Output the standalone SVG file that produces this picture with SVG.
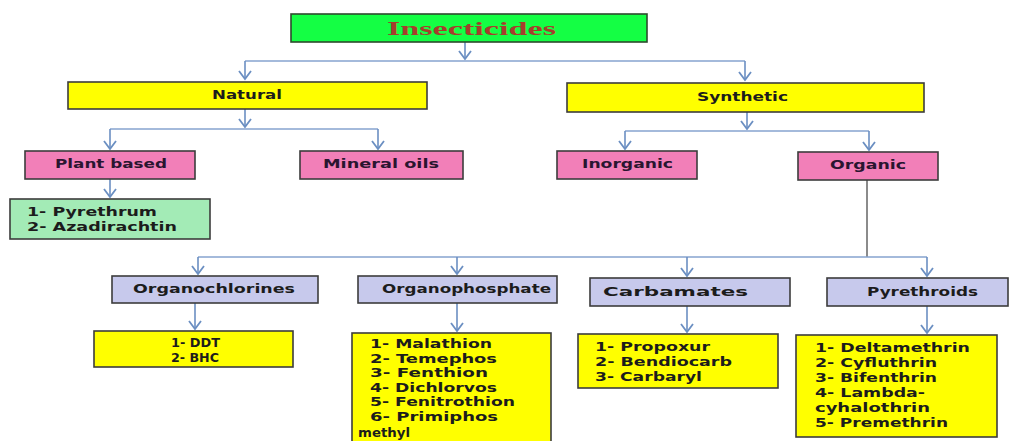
<svg xmlns="http://www.w3.org/2000/svg" width="1009" height="441" viewBox="0 0 1009 441">
<defs>
<marker id="chev" viewBox="-10 -7 12 14" refX="0" refY="0" markerWidth="12" markerHeight="14" markerUnits="userSpaceOnUse" orient="auto">
<path d="M-8,-6 L0,0 L-8,6" fill="none" stroke="#6b8fc2" stroke-width="1.8" stroke-linejoin="miter"/>
</marker>
</defs>
<style>
.b{stroke:#3c3c3c;stroke-width:1.6}
.y{fill:#ffff00}
.p{fill:#f27fb8}
.l{fill:#c7c9ec}
.g{fill:#a3ebb6}
.t{font-family:"DejaVu Sans",Verdana,sans-serif;font-weight:bold;font-size:13px;fill:#1c1c1c}
.s{font-size:12.5px}
.tp{fill:#2a1530}
.c{fill:none;stroke:#86a3cf;stroke-width:1.6}
.a{fill:none;stroke:#6b8fc2;stroke-width:1.6;marker-end:url(#chev)}
</style>
<rect width="1009" height="441" fill="#ffffff"/>
<g id="connectors">
<line class="a" x1="465" y1="42" x2="465" y2="59"/>
<polyline class="c" points="245,61 745,61"/>
<line class="a" x1="245" y1="61" x2="245" y2="79"/>
<line class="a" x1="745" y1="61" x2="745" y2="80"/>
<line class="a" x1="245" y1="109" x2="245" y2="127"/>
<polyline class="c" points="110,129 378,129"/>
<line class="a" x1="110" y1="129" x2="110" y2="149"/>
<line class="a" x1="378" y1="129" x2="378" y2="149"/>
<line class="a" x1="747" y1="112" x2="747" y2="129"/>
<polyline class="c" points="625,131 869,131"/>
<line class="a" x1="625" y1="131" x2="625" y2="149"/>
<line class="a" x1="869" y1="131" x2="869" y2="150"/>
<line class="a" x1="110" y1="179" x2="110" y2="197"/>
<line x1="867" y1="180" x2="867" y2="257" stroke="#6e6e6e" stroke-width="1.6"/>
<polyline class="c" points="198,257 927,257"/>
<line class="a" x1="198" y1="257" x2="198" y2="274"/>
<line class="a" x1="457" y1="257" x2="457" y2="274"/>
<line class="a" x1="687" y1="257" x2="687" y2="276"/>
<line class="a" x1="927" y1="257" x2="927" y2="276"/>
<line class="a" x1="195" y1="303" x2="195" y2="329"/>
<line class="a" x1="457" y1="303" x2="457" y2="331"/>
<line class="a" x1="687" y1="306" x2="687" y2="332"/>
<line class="a" x1="927" y1="306" x2="927" y2="333"/>
</g>
<g id="insecticides">
<rect x="291" y="14" width="356" height="28" fill="#14ff44" stroke="#2d4a2d" stroke-width="1.6"/>
<text x="387" y="35" textLength="169" lengthAdjust="spacingAndGlyphs" font-family="'Liberation Serif','Times New Roman',serif" font-weight="bold" font-size="18" fill="#a53e2c">Insecticides</text>
</g>
<g id="natural">
<rect class="b y" x="68" y="82" width="359" height="27"/>
<text class="t" x="212" y="99" font-size="12" textLength="70" lengthAdjust="spacingAndGlyphs">Natural</text>
</g>
<g id="synthetic">
<rect class="b y" x="567" y="83" width="357" height="29"/>
<text class="t" x="697" y="101" font-size="12" textLength="91" lengthAdjust="spacingAndGlyphs">Synthetic</text>
</g>
<g id="plant-based">
<rect class="b p" x="25" y="151" width="170" height="28"/>
<text class="t tp" x="55" y="168" textLength="112" lengthAdjust="spacingAndGlyphs">Plant based</text>
</g>
<g id="mineral-oils">
<rect class="b p" x="300" y="151" width="163" height="28"/>
<text class="t tp" x="323" y="168" textLength="116" lengthAdjust="spacingAndGlyphs">Mineral oils</text>
</g>
<g id="inorganic">
<rect class="b p" x="557" y="151" width="140" height="28"/>
<text class="t tp" x="582" y="168" textLength="91" lengthAdjust="spacingAndGlyphs">Inorganic</text>
</g>
<g id="organic">
<rect class="b p" x="798" y="152" width="140" height="28"/>
<text class="t tp" x="830" y="169" textLength="76" lengthAdjust="spacingAndGlyphs">Organic</text>
</g>
<g id="plant-list">
<rect class="b g" x="10" y="199" width="200" height="40"/>
<text class="t" x="27" y="216" textLength="130" lengthAdjust="spacingAndGlyphs">1- Pyrethrum</text>
<text class="t" x="27" y="231" textLength="150" lengthAdjust="spacingAndGlyphs">2- Azadirachtin</text>
</g>
<g id="organochlorines">
<rect class="b l" x="112" y="276" width="206" height="27"/>
<text class="t" x="133" y="293" textLength="162" lengthAdjust="spacingAndGlyphs">Organochlorines</text>
</g>
<g id="organophosphate">
<rect class="b l" x="358" y="276" width="199" height="27"/>
<text class="t" x="382" y="293" textLength="169" lengthAdjust="spacingAndGlyphs">Organophosphate</text>
</g>
<g id="carbamates">
<rect class="b l" x="590" y="278" width="200" height="28"/>
<text class="t" x="603" y="296" textLength="145" lengthAdjust="spacingAndGlyphs">Carbamates</text>
</g>
<g id="pyrethroids">
<rect class="b l" x="827" y="278" width="181" height="28"/>
<text class="t" x="867" y="296" textLength="111" lengthAdjust="spacingAndGlyphs">Pyrethroids</text>
</g>
<g id="organochlorines-list">
<rect class="b y" x="94" y="331" width="199" height="36"/>
<text class="t" x="171" y="347" textLength="49" lengthAdjust="spacingAndGlyphs">1- DDT</text>
<text class="t" x="171" y="362" textLength="48" lengthAdjust="spacingAndGlyphs">2- BHC</text>
</g>
<g id="organophosphate-list">
<rect class="b y" x="352" y="333" width="199" height="115"/>
<text class="t s" x="370" y="348" textLength="122" lengthAdjust="spacingAndGlyphs">1- Malathion</text>
<text class="t s" x="370" y="363" textLength="127" lengthAdjust="spacingAndGlyphs">2- Temephos</text>
<text class="t s" x="370" y="377" textLength="118" lengthAdjust="spacingAndGlyphs">3- Fenthion</text>
<text class="t s" x="370" y="392" textLength="127" lengthAdjust="spacingAndGlyphs">4- Dichlorvos</text>
<text class="t s" x="370" y="406" textLength="145" lengthAdjust="spacingAndGlyphs">5- Fenitrothion</text>
<text class="t s" x="370" y="421" textLength="128" lengthAdjust="spacingAndGlyphs">6- Primiphos</text>
<text class="t s" x="358" y="437" textLength="52" lengthAdjust="spacingAndGlyphs">methyl</text>
</g>
<g id="carbamates-list">
<rect class="b y" x="578" y="334" width="200" height="54"/>
<text class="t" x="595" y="351" textLength="115" lengthAdjust="spacingAndGlyphs">1- Propoxur</text>
<text class="t" x="595" y="366" textLength="137" lengthAdjust="spacingAndGlyphs">2- Bendiocarb</text>
<text class="t" x="595" y="381" textLength="107" lengthAdjust="spacingAndGlyphs">3- Carbaryl</text>
</g>
<g id="pyrethroids-list">
<rect class="b y" x="796" y="335" width="201" height="102"/>
<text class="t" x="815" y="352" textLength="155" lengthAdjust="spacingAndGlyphs">1- Deltamethrin</text>
<text class="t" x="815" y="367" textLength="122" lengthAdjust="spacingAndGlyphs">2- Cyfluthrin</text>
<text class="t" x="815" y="382" textLength="122" lengthAdjust="spacingAndGlyphs">3- Bifenthrin</text>
<text class="t" x="815" y="397" textLength="110" lengthAdjust="spacingAndGlyphs">4- Lambda-</text>
<text class="t" x="815" y="412" textLength="115" lengthAdjust="spacingAndGlyphs">cyhalothrin</text>
<text class="t" x="815" y="427" textLength="133" lengthAdjust="spacingAndGlyphs">5- Premethrin</text>
</g>
</svg>
